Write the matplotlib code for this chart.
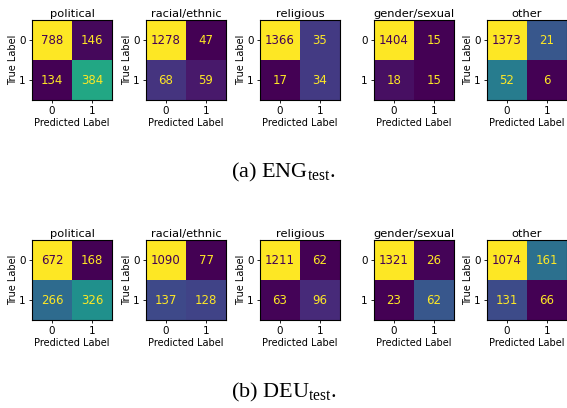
import matplotlib
matplotlib.use("Agg")
import matplotlib.pyplot as plt
import numpy as np

categories = ["political", "racial/ethnic", "religious", "gender/sexual", "other"]

# confusion-matrix counts [[TN, FP], [FN, TP]]
eng_counts = [
    [[788, 146], [134, 384]],
    [[1278, 47], [68, 59]],
    [[1366, 35], [17, 34]],
    [[1404, 15], [18, 15]],
    [[1373, 21], [52, 6]],
]
deu_counts = [
    [[672, 168], [266, 326]],
    [[1090, 77], [137, 128]],
    [[1211, 62], [63, 96]],
    [[1321, 26], [23, 62]],
    [[1074, 161], [131, 66]],
]
# colour intensity (0..1 on viridis)
eng_shade = [
    [[1.0, 0.02], [0.0, 0.6]],
    [[1.0, 0.0], [0.15, 0.07]],
    [[1.0, 0.17], [0.0, 0.17]],
    [[1.0, 0.0], [0.04, 0.0]],
    [[1.0, 0.27], [0.42, 0.0]],
]
deu_shade = [
    [[1.0, 0.0], [0.35, 0.5]],
    [[1.0, 0.0], [0.22, 0.2]],
    [[1.0, 0.0], [0.01, 0.12]],
    [[1.0, 0.01], [0.0, 0.27]],
    [[1.0, 0.37], [0.23, 0.0]],
]
show_ylabel = [True, True, True, False, True]
tick_labels = ["0", "1"]
captions = ["(a) ENG", "(b) DEU"]

W, H = 567, 408
fig = plt.figure(figsize=(W / 100, H / 100), dpi=100)
cmap = plt.get_cmap("viridis")

lefts = [32, 146, 260, 374, 487]
tops = [20, 240]
size = 80

for r, (counts_set, shade_set) in enumerate([(eng_counts, eng_shade), (deu_counts, deu_shade)]):
    for i, cat in enumerate(categories):
        ax = fig.add_axes([lefts[i] / W, (H - tops[r] - size) / H, size / W, size / H])
        counts = np.array(counts_set[i])
        shade = np.array(shade_set[i])
        ax.imshow(shade, cmap=cmap, vmin=0, vmax=1, interpolation="nearest", aspect="auto")
        thresh = (counts.max() + counts.min()) / 2
        for a in range(2):
            for b in range(2):
                c = cmap(1.0) if counts[a, b] < thresh else cmap(0.0)
                ax.text(b, a, str(counts[a, b]), ha="center", va="center",
                        color=c, fontsize=8.5)
        ax.set_xticks([0, 1])
        ax.set_yticks([0, 1])
        ax.set_xticklabels(tick_labels, fontsize=7.5)
        ax.set_yticklabels(tick_labels, fontsize=7.5)
        ax.tick_params(length=2.5, pad=2, width=0.6)
        ax.set_title(cat, fontsize=8.2, pad=2)
        ax.set_xlabel("Predicted Label", fontsize=7, labelpad=1.5)
        if show_ylabel[i]:
            ax.set_ylabel("True Label", fontsize=7, labelpad=1)
        for s in ax.spines.values():
            s.set_linewidth(0.8)

plt.rcParams["mathtext.fontset"] = "custom"
plt.rcParams["mathtext.rm"] = "Liberation Serif"
cap_y = [172, 392]
for r, cap in enumerate(captions):
    fig.text(0.5, 1 - cap_y[r] / H, cap + r"$_{\mathrm{test}}$.", ha="center", va="center",
             fontsize=16, family="Liberation Serif")

fig.savefig("out.png", dpi=100)
